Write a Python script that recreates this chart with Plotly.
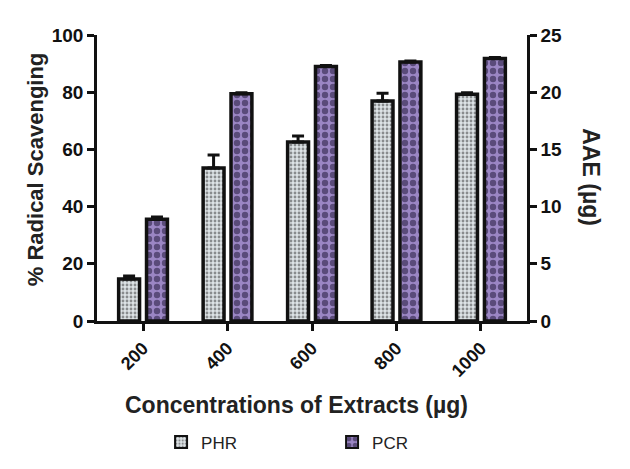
import plotly.graph_objects as go

# concentrations (µg) and % radical scavenging
concentrations = ["200", "400", "600", "800", "1000"]
phr_values = [14.7, 53.5, 62.6, 76.9, 79.3]
phr_errors = [1.0, 4.5, 2.1, 2.7, 0.5]
pcr_values = [35.6, 79.5, 89.0, 90.6, 91.8]
pcr_errors = [0.8, 0.3, 0.3, 0.3, 0.3]

FONT = "Arial, Liberation Sans, sans-serif"

fig = go.Figure()

fig.add_trace(go.Bar(
    x=concentrations, y=phr_values, name="PHR",
    marker=dict(color="#dde3e6",
                line=dict(color="#111111", width=3.5),
                pattern=dict(shape=".", size=4, solidity=0.4,
                             fgcolor="#333333", bgcolor="#dde3e6")),
    error_y=dict(type="data", symmetric=False, array=phr_errors,
                 arrayminus=[0] * len(phr_errors),
                 color="#111111", thickness=3, width=6),
))

fig.add_trace(go.Bar(
    x=concentrations, y=pcr_values, name="PCR",
    marker=dict(color="#9b86c4",
                line=dict(color="#111111", width=3.5),
                pattern=dict(shape=".", size=8, solidity=0.5,
                             fgcolor="#1a1030", bgcolor="#9b86c4")),
    error_y=dict(type="data", symmetric=False, array=pcr_errors,
                 arrayminus=[0] * len(pcr_errors),
                 color="#111111", thickness=3, width=6),
))

# empty trace so the right-hand AAE axis gets drawn
fig.add_trace(go.Scatter(x=concentrations, y=[None] * 5, yaxis="y2",
                         showlegend=False, hoverinfo="skip"))

axis_style = dict(showline=True, linecolor="#111111", linewidth=2.5,
                  ticks="outside", ticklen=7, tickwidth=2.5, tickcolor="#111111",
                  showgrid=False, zeroline=False, automargin=False)

# page body has an 8px margin, so the figure is placed 8px up/left of the target
fig.update_layout(
    width=630, height=469,
    margin=dict(l=89, r=111, t=27, b=156),
    paper_bgcolor="white", plot_bgcolor="white",
    font=dict(family=FONT, color="#111111"),
    barmode="group", bargap=0.34, bargroupgap=0.25,
    showlegend=True,
    legend=dict(orientation="h", x=0.149, xref="paper", y=-0.362, yanchor="top",
                font=dict(size=17, family=FONT, color="#222222"),
                entrywidth=126, itemsizing="constant"),
    xaxis=dict(range=[-0.545, 4.545], tickangle=-45,
               tickfont=dict(size=18, family=FONT, weight="bold"),
               **axis_style),
    yaxis=dict(range=[0, 100], tickvals=[0, 20, 40, 60, 80, 100],
               tickfont=dict(size=19, family=FONT, weight="bold"),
               **axis_style),
    yaxis2=dict(range=[0, 25], tickvals=[0, 5, 10, 15, 20, 25],
                overlaying="y", side="right",
                tickfont=dict(size=19, family=FONT, weight="bold"),
                **axis_style),
    annotations=[
        dict(text="Concentrations of Extracts (µg)", xref="paper", yref="paper",
             x=0.465, y=-0.294, xanchor="center", yanchor="middle", showarrow=False,
             font=dict(size=23, family=FONT, weight="bold", color="#222222")),
        dict(text="% Radical Scavenging", xref="paper", yref="paper",
             x=-0.144, y=0.531, xanchor="center", yanchor="middle", showarrow=False,
             textangle=-90,
             font=dict(size=22, family=FONT, weight="bold", color="#222222")),
        dict(text="AAE (µg)", xref="paper", yref="paper",
             x=1.149, y=0.502, xanchor="center", yanchor="middle", showarrow=False,
             textangle=90,
             font=dict(size=23, family=FONT, weight="bold", color="#222222")),
    ],
)

fig.write_html("out.html")
